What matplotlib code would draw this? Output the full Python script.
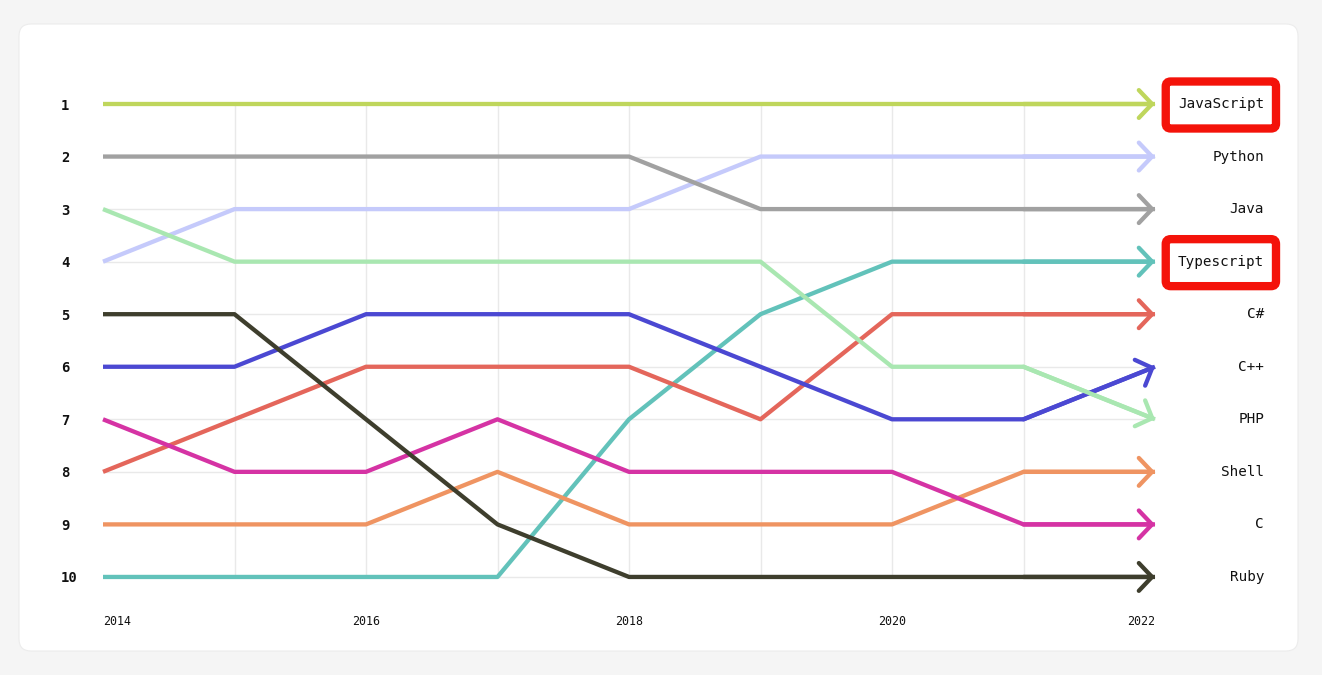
import matplotlib.pyplot as plt
from matplotlib.patches import FancyBboxPatch
from matplotlib.transforms import IdentityTransform

years = [2014, 2015, 2016, 2017, 2018, 2019, 2020, 2021, 2022]
languages = ['JavaScript', 'Python', 'Java', 'Typescript', 'C#',
             'C++', 'PHP', 'Shell', 'C', 'Ruby']
ranks = {
    'JavaScript': [1, 1, 1, 1, 1, 1, 1, 1, 1],
    'Python':     [4, 3, 3, 3, 3, 2, 2, 2, 2],
    'Java':       [2, 2, 2, 2, 2, 3, 3, 3, 3],
    'Typescript': [10, 10, 10, 10, 7, 5, 4, 4, 4],
    'C#':         [8, 7, 6, 6, 6, 7, 5, 5, 5],
    'C++':        [6, 6, 5, 5, 5, 6, 7, 7, 6],
    'PHP':        [3, 4, 4, 4, 4, 4, 6, 6, 7],
    'Shell':      [9, 9, 9, 8, 9, 9, 9, 8, 8],
    'C':          [7, 8, 8, 7, 8, 8, 8, 9, 9],
    'Ruby':       [5, 5, 7, 9, 10, 10, 10, 10, 10],
}
colors = {
    'JavaScript': '#bfd65c',
    'Python':     '#c5cafb',
    'Java':       '#a1a1a1',
    'Typescript': '#62c2ba',
    'C#':         '#e4665b',
    'C++':        '#4b48d2',
    'PHP':        '#a9e7b1',
    'Shell':      '#ef9462',
    'C':          '#d533a4',
    'Ruby':       '#3e3e2d',
}
highlighted = ['JavaScript', 'Typescript']
xtick_years = [2014, 2016, 2018, 2020, 2022]
mono = 'DejaVu Sans Mono'

W, H = 1322, 675
fig = plt.figure(figsize=(W / 100, H / 100), dpi=100)
fig.patch.set_facecolor('#f5f5f5')

# white card behind the chart
card = FancyBboxPatch((19, 24), 1279, 627, boxstyle='round,pad=0,rounding_size=12',
                      transform=IdentityTransform(), fc='white', ec='#ececec', lw=0.8,
                      zorder=-5)
fig.patches.append(card)

# axes placement in pixels: 2014 -> x=103, 2022 -> x=1155 ; rank 1 -> y=104, rank 10 -> y=577
xs = 131.5
ys = 52.55
left, right, top, bottom = 90, 1170, 90, 600
ax = fig.add_axes([left / W, 1 - bottom / H, (right - left) / W, (bottom - top) / H])
ax.set_zorder(1)
ax.set_xlim(2014 - (103 - left) / xs, 2014 + (right - 103) / xs)
ax.set_ylim(1 + (bottom - 104) / ys, 1 - (104 - top) / ys)
ax.patch.set_alpha(0)
for s in ax.spines.values():
    s.set_visible(False)

# grid
ax.vlines(years[1:-1], 1, 10, color='#e9e9e9', lw=1, zorder=0)
ax.hlines(range(1, 11), years[0], years[-1], color='#e9e9e9', lw=1, zorder=0)

boxed = []
for name in languages:
    r = ranks[name]
    c = colors[name]
    ax.plot(years, r, color=c, lw=3.1, solid_joinstyle='round', solid_capstyle='butt', zorder=2)
    ax.annotate('', xy=(years[-1], r[-1]), xytext=(years[-2], r[-2]),
                arrowprops=dict(arrowstyle='->,head_length=0.95,head_width=1.0',
                                color=c, lw=3.1, shrinkA=0, shrinkB=0,
                                joinstyle='round', capstyle='round'),
                zorder=3)
    t = ax.annotate(name, xy=(years[-1], r[-1]), xytext=(109, 0),
                    textcoords='offset pixels', annotation_clip=False,
                    fontsize=10.3, family=mono, ha='right', va='center',
                    color='#111111', zorder=6)
    if name in highlighted:
        boxed.append(t)

# y ticks: ranks
ax.set_yticks(range(1, 11))
ax.set_yticklabels([str(i) for i in range(1, 11)], family=mono, fontweight='bold',
                   fontsize=10, ha='left', color='#111111')
ax.tick_params(axis='y', length=0, pad=21)

# x ticks: years
ax.set_xticks(xtick_years)
ax.set_xticklabels([str(y) for y in xtick_years], family=mono, fontsize=8.4, color='#111111')
ax.tick_params(axis='x', length=0, pad=11)
labs = ax.get_xticklabels()
labs[0].set_ha('left')
labs[-1].set_ha('right')

# red highlight boxes around chosen labels
fig.canvas.draw()
renderer = fig.canvas.get_renderer()
padx = 12
for t in boxed:
    bb = t.get_window_extent(renderer)
    cy = (bb.y0 + bb.y1) / 2 - 1
    h = 47
    box = FancyBboxPatch((bb.x0 - padx, cy - h / 2), bb.width + 2 * padx, h,
                         boxstyle='round,pad=0,rounding_size=5',
                         fc='white', ec='#f4130a', lw=6, zorder=5, clip_on=False)
    box.set_transform(IdentityTransform())
    ax.add_patch(box)

fig.savefig('out.png', dpi=100, facecolor=fig.get_facecolor())
